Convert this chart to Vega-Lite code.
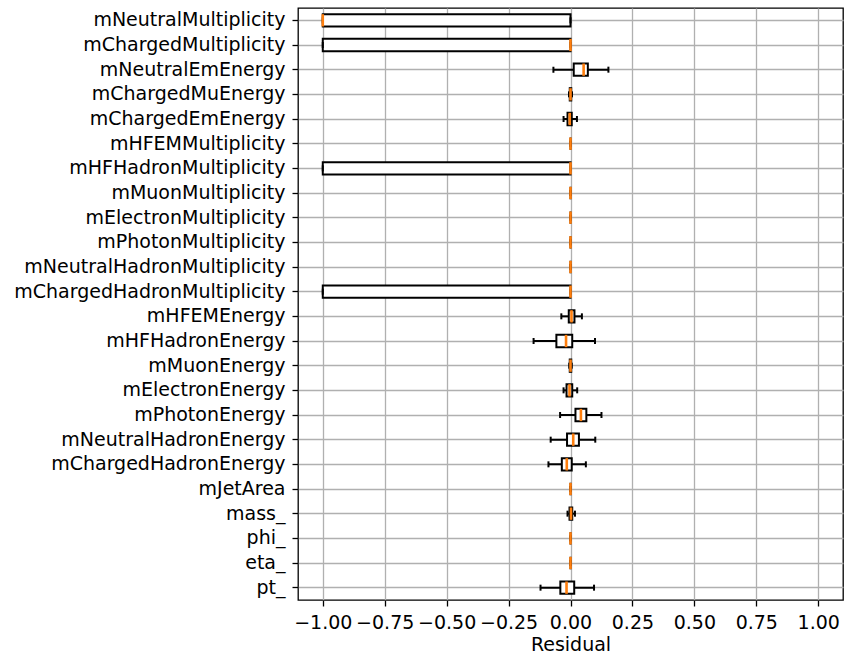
{
  "$schema": "https://vega.github.io/schema/vega-lite/v6.json",
  "width": 545,
  "height": 592,
  "autosize": {"type": "none"},
  "padding": {"left": 298, "top": 8, "right": 2, "bottom": 55},
  "background": "white",
  "config": {
    "view": {"stroke": "black", "strokeWidth": 1.3},
    "font": "DejaVu Sans",
    "axis": {
      "labelFont": "DejaVu Sans",
      "titleFont": "DejaVu Sans",
      "labelFontSize": 19,
      "titleFontSize": 19,
      "labelColor": "black",
      "titleColor": "black",
      "titleFontWeight": "normal",
      "labelLimit": 400,
      "domainColor": "black",
      "domainWidth": 1.3,
      "tickColor": "black",
      "tickWidth": 1.3,
      "tickSize": 6,
      "gridColor": "#b0b0b0",
      "gridWidth": 1.3,
      "gridOpacity": 1
    }
  },
  "data": {
    "values": [
      {"name": "mNeutralMultiplicity", "lo": -1, "q1": -1, "med": -1, "q3": 0, "hi": 0},
      {"name": "mChargedMultiplicity", "lo": -1, "q1": -1, "med": 0, "q3": 0, "hi": 0},
      {"name": "mNeutralEmEnergy", "lo": -0.069, "q1": 0.013, "med": 0.053, "q3": 0.070, "hi": 0.153},
      {"name": "mChargedMuEnergy", "lo": -0.006, "q1": -0.003, "med": 0, "q3": 0.003, "hi": 0.006},
      {"name": "mChargedEmEnergy", "lo": -0.028, "q1": -0.012, "med": -0.003, "q3": 0.005, "hi": 0.026},
      {"name": "mHFEMMultiplicity", "lo": 0, "q1": 0, "med": 0, "q3": 0, "hi": 0},
      {"name": "mHFHadronMultiplicity", "lo": -1, "q1": -1, "med": 0, "q3": 0, "hi": 0},
      {"name": "mMuonMultiplicity", "lo": 0, "q1": 0, "med": 0, "q3": 0, "hi": 0},
      {"name": "mElectronMultiplicity", "lo": 0, "q1": 0, "med": 0, "q3": 0, "hi": 0},
      {"name": "mPhotonMultiplicity", "lo": 0, "q1": 0, "med": 0, "q3": 0, "hi": 0},
      {"name": "mNeutralHadronMultiplicity", "lo": 0, "q1": 0, "med": 0, "q3": 0, "hi": 0},
      {"name": "mChargedHadronMultiplicity", "lo": -1, "q1": -1, "med": 0, "q3": 0, "hi": 0},
      {"name": "mHFEMEnergy", "lo": -0.037, "q1": -0.007, "med": 0.004, "q3": 0.016, "hi": 0.046},
      {"name": "mHFHadronEnergy", "lo": -0.149, "q1": -0.057, "med": -0.018, "q3": 0.007, "hi": 0.099},
      {"name": "mMuonEnergy", "lo": -0.005, "q1": -0.003, "med": 0, "q3": 0.003, "hi": 0.005},
      {"name": "mElectronEnergy", "lo": -0.028, "q1": -0.016, "med": -0.004, "q3": 0.007, "hi": 0.027},
      {"name": "mPhotonEnergy", "lo": -0.042, "q1": 0.020, "med": 0.042, "q3": 0.064, "hi": 0.125},
      {"name": "mNeutralHadronEnergy", "lo": -0.080, "q1": -0.014, "med": 0.011, "q3": 0.034, "hi": 0.100},
      {"name": "mChargedHadronEnergy", "lo": -0.089, "q1": -0.035, "med": -0.015, "q3": 0.005, "hi": 0.062},
      {"name": "mJetArea", "lo": 0, "q1": 0, "med": 0, "q3": 0, "hi": 0},
      {"name": "mass_", "lo": -0.012, "q1": -0.004, "med": 0.002, "q3": 0.007, "hi": 0.018},
      {"name": "phi_", "lo": 0, "q1": 0, "med": 0, "q3": 0, "hi": 0},
      {"name": "eta_", "lo": 0, "q1": 0, "med": 0, "q3": 0, "hi": 0},
      {"name": "pt_", "lo": -0.121, "q1": -0.041, "med": -0.016, "q3": 0.015, "hi": 0.095}
    ]
  },
  "encoding": {
    "y": {
      "field": "name",
      "type": "nominal",
      "sort": null,
      "scale": {"type": "band", "paddingInner": 0, "paddingOuter": 0},
      "axis": {"title": null, "bandPosition": 0.5, "grid": true, "labelPadding": 7, "domain": false}
    }
  },
  "layer": [
    {
      "mark": {"type": "rule", "color": "black", "strokeWidth": 2, "opacity": 1},
      "encoding": {
        "x": {
          "field": "lo",
          "type": "quantitative",
          "scale": {"domain": [-1.1, 1.1], "nice": false, "zero": false},
          "axis": {
            "title": "Residual",
            "values": [-1, -0.75, -0.5, -0.25, 0, 0.25, 0.5, 0.75, 1],
            "format": ".2f",
            "grid": true,
            "labelPadding": 7,
            "titlePadding": 3,
            "domain": false
          }
        },
        "x2": {"field": "hi"}
      }
    },
    {
      "mark": {"type": "bar", "fill": "white", "stroke": "black", "strokeWidth": 2, "opacity": 1, "height": {"band": 0.5}},
      "encoding": {
        "x": {"field": "q1", "type": "quantitative"},
        "x2": {"field": "q3"}
      }
    },
    {
      "mark": {"type": "tick", "color": "black", "size": 6, "thickness": 2, "opacity": 1},
      "encoding": {"x": {"field": "lo", "type": "quantitative"}}
    },
    {
      "mark": {"type": "tick", "color": "black", "size": 6, "thickness": 2, "opacity": 1},
      "encoding": {"x": {"field": "hi", "type": "quantitative"}}
    },
    {
      "mark": {"type": "tick", "color": "#ff7f0e", "size": 12.3, "thickness": 2.6, "opacity": 1},
      "encoding": {"x": {"field": "med", "type": "quantitative"}}
    }
  ]
}
